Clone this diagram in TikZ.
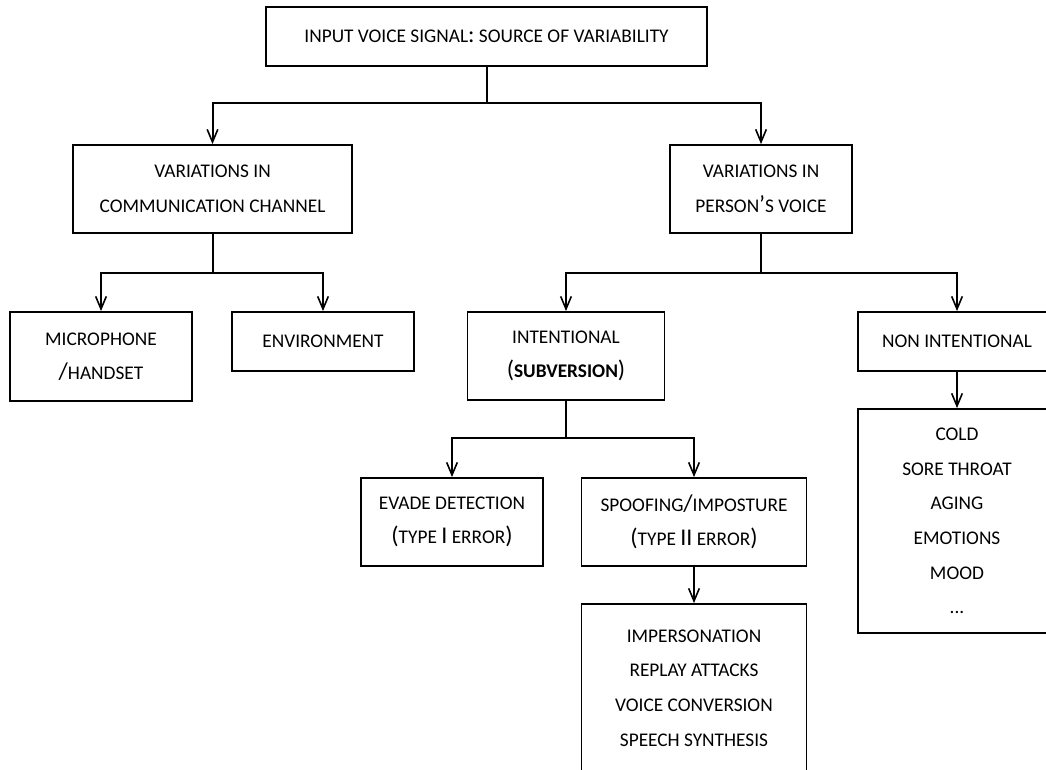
\documentclass[tikz,border=0pt]{standalone}
\usepackage{fontspec}
\setmainfont{Carlito}
\usetikzlibrary{arrows.meta}
% full-size punctuation inside the small-capital labels
\newcommand\fullp[1]{{\fontsize{18}{20}\selectfont #1}}

\begin{document}
\begin{tikzpicture}[x=0.75pt,y=-0.75pt,
  box/.style={draw, line width=1.4pt, inner sep=0pt, align=center,
              font=\fontsize{14.5}{25.9}\selectfont},
  wh/.style 2 args={minimum width=#1*0.75pt, minimum height=#2*0.75pt},
  link/.style={line width=1.5pt},
  arr/.style={link, -{Straight Barb[length=9.5pt,width=8pt,line width=1.2pt]}}]
\useasboundingbox (0,0) rectangle (1046,769);
\clip (0,0) rectangle (1046,769);

% boxes
\node[box, wh={441}{59}] (src) at (486.5,36.5) {INPUT VOICE SIGNAL\fullp{:} SOURCE OF VARIABILITY};
\node[box, wh={279}{88}] (chan) at (212.5,189) {VARIATIONS IN\\COMMUNICATION CHANNEL};
\node[box, wh={182}{88}] (pers) at (761,189) {VARIATIONS IN\\PERSON\fullp{’}S VOICE};
\node[box, wh={182}{89}] (mic) at (101,356.5) {MICROPHONE\\\fullp{/}HANDSET};
\node[box, wh={182}{59}] (env) at (323,341.5) {ENVIRONMENT};
\node[box, wh={197}{88}] (intent) at (566,356) {INTENTIONAL\\\fullp{(}\textbf{SUBVERSION}\fullp{)}};
\node[box, wh={198}{59}] (nonint) at (957,341.5) {NON INTENTIONAL};
\node[box, wh={198}{224}] (causes) at (957,521) {COLD\\SORE THROAT\\AGING\\EMOTIONS\\MOOD\\...};
\node[box, wh={182}{88}] (evade) at (452,522) {EVADE DETECTION\\\fullp{(}TYPE \fullp{I} ERROR\fullp{)}};
\node[box, wh={225}{88}] (spoof) at (694,522) {SPOOFING\fullp{/}IMPOSTURE\\\fullp{(}TYPE \fullp{II} ERROR\fullp{)}};
\node[box, wh={225}{168}] (attacks) at (694,688) {IMPERSONATION\\REPLAY ATTACKS\\VOICE CONVERSION\\SPEECH SYNTHESIS};

% branch points
\coordinate (j1) at (486.5,103);
\coordinate (j2) at (212.5,273);
\coordinate (j3) at (761,273);
\coordinate (j4) at (566,438);

% connectors
\draw[link] (src.south) -- (j1);
\draw[arr] (j1) -| (chan.north);
\draw[arr] (j1) -| (pers.north);

\draw[link] (chan.south) -- (j2);
\draw[arr] (j2) -| (mic.north);
\draw[arr] (j2) -| (env.north);

\draw[link] (pers.south) -- (j3);
\draw[arr] (j3) -| (intent.north);
\draw[arr] (j3) -| (nonint.north);

\draw[link] (intent.south) -- (j4);
\draw[arr] (j4) -| (evade.north);
\draw[arr] (j4) -| (spoof.north);

\draw[arr] (nonint.south) -- (causes.north);
\draw[arr] (spoof.south) -- (attacks.north);
\end{tikzpicture}
\end{document}
